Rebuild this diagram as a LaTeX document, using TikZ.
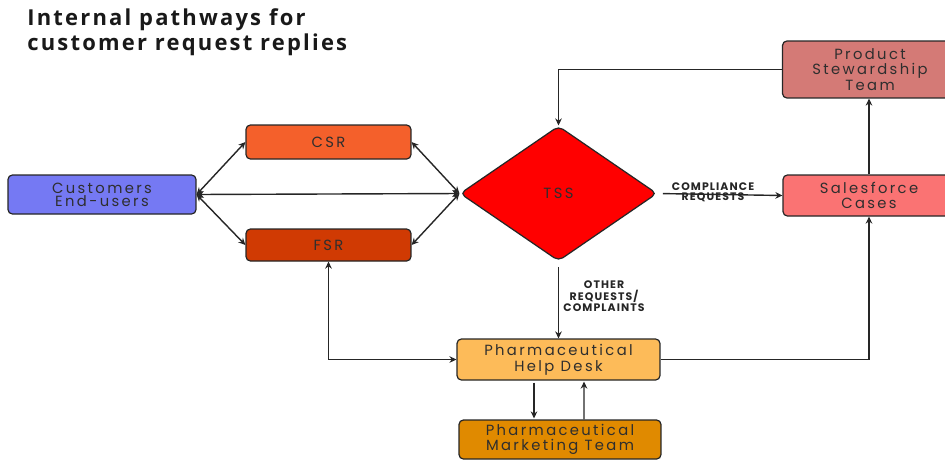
\documentclass[tikz,border=0pt]{standalone}
\usepackage{fontspec}
\usetikzlibrary{arrows.meta,shapes.geometric,calc}
\setmainfont{Poppins}
\newfontfamily\titlefont[LetterSpace=10]{Open Sans}
\newfontfamily\boxfont[LetterSpace=16]{Poppins}
\newfontfamily\lblfont[LetterSpace=10]{Poppins}
\definecolor{custblue}{HTML}{7579F3}
\definecolor{csrc}{HTML}{F4602B}
\definecolor{fsrc}{HTML}{D03A03}
\definecolor{tssc}{HTML}{FF0000}
\definecolor{sfc}{HTML}{FA7373}
\definecolor{psc}{HTML}{D47A76}
\definecolor{hdc}{HTML}{FDBB59}
\definecolor{mktc}{HTML}{E08A00}
\definecolor{txt}{HTML}{2E2E2E}
\tikzset{
  box/.style={draw=black!85, line width=0.7pt, rounded corners=2.5pt, align=center,
    inner sep=0pt, text=txt, font=\boxfont\fontsize{8.4}{9}\selectfont},
  tight/.style={font=\boxfont\fontsize{8.4}{7.4}\selectfont},
  conn/.style={draw=black!85, line width=0.8pt, -{Stealth[length=4pt,width=3.8pt]}},
  bconn/.style={draw=black!85, line width=0.8pt, {Stealth[length=4pt,width=3.8pt]}-{Stealth[length=4pt,width=3.8pt]}},
  lbl/.style={align=center, inner sep=0pt, text=black!85, font=\lblfont\bfseries\fontsize{6.2}{5.9}\selectfont}
}
\begin{document}
\begin{tikzpicture}[x=0.02cm,y=-0.02cm]
\useasboundingbox (0,0) rectangle (945,460);
\node[anchor=north west, align=left, inner sep=0pt, text=black!90, font=\titlefont\bfseries\fontsize{12.5}{14.7}\selectfont] (title) at (27,8)
  {Internal pathways for\\customer request replies};

\node[box, tight, fill=custblue, minimum width=3.76cm, minimum height=0.78cm] (cust) at (102,194.5) {Customers\\End-users};
\node[box, fill=csrc, minimum width=3.3cm, minimum height=0.68cm] (csr) at (328.5,142) {CSR};
\node[box, fill=fsrc, minimum width=3.3cm, minimum height=0.64cm] (fsr) at (328.5,245) {FSR};
\node[draw=black!85, line width=0.7pt, fill=tssc, diamond, rounded corners=3pt, inner sep=0pt,
  minimum width=3.94cm, minimum height=2.7cm, aspect=1.46, text=txt, font=\boxfont\fontsize{8.4}{9}\selectfont] (tss) at (558.5,193.5) {TSS};
\node[box, fill=sfc, minimum width=3.44cm, minimum height=0.82cm] (sf) at (869,195.5) {Salesforce\\Cases};
\node[box, fill=psc, minimum width=3.5cm, minimum height=1.14cm] (ps) at (870,69.5) {Product\\Stewardship\\Team};
\node[box, fill=hdc, minimum width=4.06cm, minimum height=0.82cm] (hd) at (558.5,359.5) {Pharmaceutical\\Help Desk};
\node[box, fill=mktc, minimum width=4.04cm, minimum height=0.78cm, font=\boxfont\fontsize{8.4}{8.5}\selectfont] (mkt) at (560,439.5) {Pharmaceutical\\Marketing Team};

\draw[bconn] (cust.east) -- (csr.west);
\draw[bconn] (cust.east) -- (fsr.west);
\draw[bconn] (cust.east) -- (tss.west);
\draw[bconn] (tss.west) -- (csr.east);
\draw[bconn] (tss.west) -- (fsr.east);
\draw[conn, shorten <=3pt] (tss.east) -- (sf.west);
\node[lbl] (lcomp) at (713,192) {COMPLIANCE\\REQUESTS};
\draw[conn, shorten <=3pt] (tss.south) -- (hd.north);
\node[lbl] (lother) at (604,296) {OTHER\\REQUESTS/\\COMPLAINTS};
\draw[conn] (ps.west) -| (tss.north);
\draw[conn] (sf.north) -- (sf.north |- ps.south);
\draw[conn] (hd.east) -| (sf.south);
\draw[bconn] (hd.west) -| (fsr.south);
\draw[conn] ($(hd.south)+(-24.5,2)$) -- ($(mkt.north)+(-26,-1)$);
\draw[conn] ($(mkt.north)+(24,0)$) -- ($(hd.south)+(25.5,1)$);
\end{tikzpicture}
\end{document}
